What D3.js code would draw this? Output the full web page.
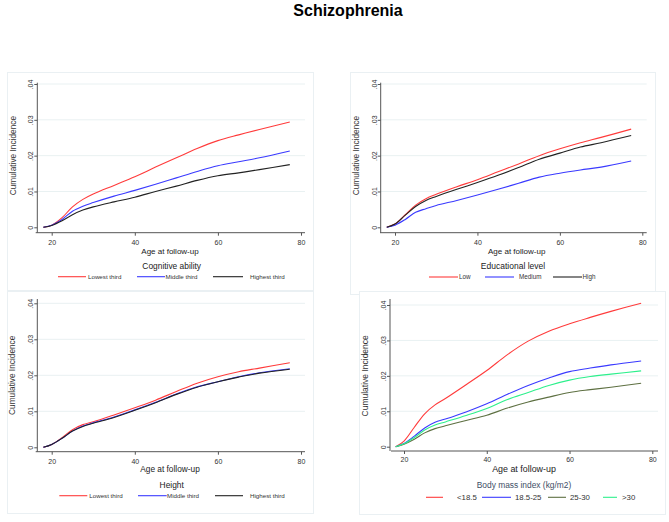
<!DOCTYPE html>
<html>
<head>
<meta charset="utf-8">
<script src="https://cdn.jsdelivr.net/npm/d3@7"></script>
<style>
  html, body { margin: 0; padding: 0; background: #fff; }
  svg { display: block; font-family: "Liberation Sans", Arial, sans-serif; }
</style>
</head>
<body>
<svg id="chart" width="669" height="522"></svg>
<script>
// ---------------- data ----------------
const chartTitle = "Schizophrenia";
const ages = [18, 20, 22.5, 25, 27.5, 30, 35, 40, 45, 50, 55, 60, 65, 70, 77.3];
const xTicks = [20, 40, 60, 80];
const yTicks = [0, 0.01, 0.02, 0.03, 0.04];

const cogLabels = ["Lowest third", "Middle third", "Highest third"];
const cogLowest  = [0, .0006, .0027, .0057, .0078, .0093, .0117, .0141, .0168, .0194, .0220, .0242, .0258, .0273, .0294];
const cogMiddle  = [0, .0006, .0022, .0045, .0059, .0069, .0087, .0103, .0120, .0138, .0156, .0172, .0183, .0194, .0213];
const cogHighest = [0, .0005, .0018, .0035, .0048, .0057, .0071, .0084, .0100, .0115, .0131, .0144, .0152, .0161, .0175];

const eduLabels = ["Low", "Medium", "High"];
const eduLow    = [0, .0009, .0035, .0062, .0080, .0092, .0113, .0133, .0155, .0177, .0200, .0219, .0236, .0251, .0274];
const eduMedium = [0, .0006, .0022, .0042, .0052, .0061, .0075, .0090, .0106, .0123, .0140, .0151, .0160, .0168, .0185];
const eduHigh   = [0, .0009, .0034, .0058, .0075, .0086, .0106, .0125, .0145, .0167, .0190, .0207, .0224, .0236, .0256];

const hgtLabels = ["Lowest third", "Middle third", "Highest third"];
const hgtLowest  = [0, .0008, .0027, .0049, .0063, .0071, .0090, .0110, .0131, .0155, .0178, .0196, .0210, .0220, .0235];
const hgtMiddle  = [0, .0008, .0025, .0045, .0059, .0068, .0084, .0104, .0125, .0148, .0168, .0182, .0196, .0207, .0218];
const hgtHighest = [0, .0008, .0025, .0045, .0058, .0067, .0083, .0103, .0124, .0147, .0167, .0182, .0195, .0206, .0217];

const bmiLabels = ["<18.5", "18.5-25", "25-30", ">30"];
const bmiUnder  = [0, .0016, .0055, .0093, .0118, .0136, .0175, .0215, .0260, .0298, .0326, .0347, .0365, .0382, .0405];
const bmiNormal = [0, .0009, .0030, .0053, .0069, .0078, .0098, .0121, .0148, .0173, .0194, .0212, .0222, .0231, .0242];
const bmiOver   = [0, .0007, .0021, .0039, .0051, .0059, .0074, .0089, .0109, .0126, .0140, .0153, .0161, .0168, .0179];
const bmiObese  = [0, .0008, .0026, .0047, .0061, .0070, .0088, .0108, .0133, .0153, .0173, .0188, .0198, .0205, .0214];

// ---------------- layout / style ----------------
const RED = "#ff3b3b", BLUE = "#3a3aff", BLACK = "#222222", OLIVE = "#5e7042", MINT = "#2df08c";

const panels = [
  { legendTitle: "Cognitive ability", labels: cogLabels, series: [cogLowest, cogMiddle, cogHighest], colors: [RED, BLUE, BLACK],
    box: [7, 72, 313, 290], yAxisX: 37.3, yTop: 82.7, y0: 227.3, y4: 84, x20: 51.7, x80: 301, xAxisY: 232.7, xLineL: 35.7, xLineR: 305,
    tickBase: 12.8, xTitleY: 253.5, xTitleX: 170, xTitleSize: 8, yTitleX: 12.7, ySize: 8.3,
    legTitleY: 269, legTitleX: 171.7, legTitleSize: 8.4, legY: 276.7, legSize: 6.2, legColor: "#333",
    items: [[58, 86, 88], [137, 165, 165.5], [213, 243, 250]] },
  { legendTitle: "Educational level", labels: eduLabels, series: [eduLow, eduMedium, eduHigh], colors: [RED, BLUE, BLACK],
    box: [350, 72, 655, 294], yAxisX: 380.7, yTop: 82.7, y0: 227.3, y4: 84, x20: 395, x80: 642.3, xAxisY: 232.7, xLineL: 380, xLineR: 646.7,
    tickBase: 12.8, xTitleY: 253.5, xTitleX: 516.7, xTitleSize: 8, yTitleX: 355.5, ySize: 8.3,
    legTitleY: 269, legTitleX: 513, legTitleSize: 8.5, legY: 277, legSize: 6.3, legColor: "#333",
    items: [[429, 458, 459], [485, 514, 519], [553, 582, 582.5]] },
  { legendTitle: "Height", labels: hgtLabels, series: [hgtLowest, hgtMiddle, hgtHighest], colors: [RED, BLUE, BLACK],
    box: [7, 291, 313, 513], yAxisX: 37.3, yTop: 299, y0: 447.3, y4: 303.3, x20: 51.7, x80: 301, xAxisY: 451.7, xLineL: 35.7, xLineR: 305,
    tickBase: 12.2, xTitleY: 471.7, xTitleX: 170, xTitleSize: 8.3, yTitleX: 12, ySize: 8.3,
    legTitleY: 487.7, legTitleX: 171.7, legTitleSize: 8.4, legY: 495.7, legSize: 6.2, legColor: "#333",
    items: [[59.3, 87.3, 89.3], [138, 166.7, 167], [215, 243, 250]] },
  { legendTitle: "Body mass index (kg/m2)", labels: bmiLabels, series: [bmiUnder, bmiNormal, bmiOver, bmiObese], colors: [RED, BLUE, OLIVE, MINT],
    box: [359, 291, 665, 514], yAxisX: 390, yTop: 299, y0: 446.7, y4: 305, x20: 404, x80: 652.3, xAxisY: 451, xLineL: 391, xLineR: 658,
    tickBase: 11.3, xTitleY: 471.7, xTitleX: 524, xTitleSize: 8.9, yTitleX: 365, ySize: 8.5,
    legTitleY: 488.3, legTitleX: 524, legTitleSize: 8.4, legTitleColor: "#3e4e66", legY: 497.3, legSize: 7.8, legColor: "#333",
    items: [[426, 443, 457], [482, 511, 515], [548, 566, 570], [603, 617, 622]] }
];

const svg = d3.select("#chart");

svg.append("text")
  .attr("x", 348).attr("y", 15.5)
  .attr("text-anchor", "middle")
  .attr("font-weight", "bold").attr("font-size", 16)
  .attr("fill", "#000")
  .text(chartTitle);

const yFmt = d => d === 0 ? "0" : d3.format(".2f")(d).replace(/^0/, "");

panels.forEach(p => {
  const g = svg.append("g");
  // panel box
  g.append("rect")
    .attr("x", p.box[0] + 0.5).attr("y", p.box[1] + 0.5)
    .attr("width", p.box[2] - p.box[0]).attr("height", p.box[3] - p.box[1])
    .attr("fill", "#fff").attr("stroke", "#eaf0f3").attr("stroke-width", 1);

  const x = d3.scaleLinear().domain([20, 80]).range([p.x20, p.x80]);
  const y = d3.scaleLinear().domain([0, 0.04]).range([p.y0, p.y4]);

  // grid lines
  g.selectAll("line.grid").data(yTicks.filter(t => t > 0)).enter().append("line")
    .attr("class", "grid")
    .attr("x1", p.yAxisX).attr("x2", p.xLineR)
    .attr("y1", d => y(d)).attr("y2", d => y(d))
    .attr("stroke", "#e9f1f2").attr("stroke-width", 1);

  // y axis
  const ya = g.append("g").attr("transform", `translate(${p.yAxisX},0)`)
    .call(d3.axisLeft(y).tickValues(yTicks).tickFormat(yFmt).tickSize(3).tickSizeOuter(0));
  ya.select(".domain").remove();
  ya.selectAll(".tick line").attr("stroke", "#555");
  ya.selectAll(".tick text")
    .attr("transform", "rotate(-90)")
    .attr("x", 0).attr("y", -4.2).attr("dy", 0)
    .attr("text-anchor", "middle")
    .attr("font-size", 7).attr("font-family", "Liberation Sans, Arial, sans-serif").attr("fill", "#333");
  g.append("line")
    .attr("x1", p.yAxisX).attr("x2", p.yAxisX)
    .attr("y1", p.yTop).attr("y2", p.xAxisY)
    .attr("stroke", "#555").attr("stroke-width", 1);

  // x axis
  const xa = g.append("g").attr("transform", `translate(0,${p.xAxisY})`)
    .call(d3.axisBottom(x).tickValues(xTicks).tickFormat(d3.format("d")).tickSize(3).tickSizeOuter(0));
  xa.select(".domain").remove();
  xa.selectAll(".tick line").attr("stroke", "#555");
  xa.selectAll(".tick text")
    .attr("y", p.tickBase).attr("dy", 0)
    .attr("font-size", 7).attr("font-family", "Liberation Sans, Arial, sans-serif").attr("fill", "#333");
  g.append("line")
    .attr("x1", p.xLineL).attr("x2", p.xLineR)
    .attr("y1", p.xAxisY).attr("y2", p.xAxisY)
    .attr("stroke", "#555").attr("stroke-width", 1);

  // axis titles
  g.append("text")
    .attr("transform", `translate(${p.yTitleX},${(p.y0 + p.y4) / 2}) rotate(-90)`)
    .attr("dy", "0.36em").attr("text-anchor", "middle")
    .attr("font-size", p.ySize).attr("fill", "#333")
    .text("Cumulative Incidence");
  g.append("text")
    .attr("x", p.xTitleX).attr("y", p.xTitleY)
    .attr("text-anchor", "middle")
    .attr("font-size", p.xTitleSize).attr("fill", "#222")
    .text("Age at follow-up");

  // curves
  const line = d3.line().x(d => x(d[0])).y(d => y(d[1])).curve(d3.curveCatmullRom.alpha(0.5));
  p.series.forEach((vals, i) => {
    g.append("path")
      .datum(ages.map((a, k) => [a, vals[k]]))
      .attr("d", line)
      .attr("fill", "none")
      .attr("stroke", p.colors[i])
      .attr("stroke-width", 1.1);
  });

  // legend
  g.append("text")
    .attr("x", p.legTitleX).attr("y", p.legTitleY)
    .attr("text-anchor", "middle")
    .attr("font-size", p.legTitleSize).attr("fill", p.legTitleColor || "#222")
    .text(p.legendTitle);
  p.labels.forEach((lab, i) => {
    const it = p.items[i];
    g.append("line")
      .attr("x1", it[0]).attr("x2", it[1])
      .attr("y1", p.legY).attr("y2", p.legY)
      .attr("stroke", p.colors[i]).attr("stroke-width", 1.1);
    g.append("text")
      .attr("x", it[2]).attr("y", p.legY + p.legSize * 0.36)
      .attr("font-size", p.legSize).attr("fill", p.legColor)
      .text(lab);
  });
});
</script>
</body>
</html>
